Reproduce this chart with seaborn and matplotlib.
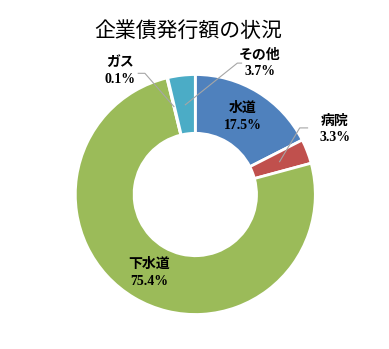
import numpy as np
import matplotlib
matplotlib.use("Agg")
import matplotlib.pyplot as plt
import seaborn as sns

# 企業債発行額の構成比（%）
categories = ["水道", "病院", "下水道", "ガス", "その他"]
shares = [17.5, 3.3, 75.4, 0.1, 3.7]
colors = ["#4F81BD", "#C0504D", "#9BBB59", "#8064A2", "#4BACC6"]
title = "企業債発行額の状況"

sns.set_theme(style="white")
plt.rcParams["font.family"] = ["Noto Sans CJK JP", "DejaVu Sans"]
label_family = ["Liberation Serif", "Noto Sans CJK JP"]

fig = plt.figure(figsize=(3.89, 3.49), dpi=100)
fig.patch.set_facecolor("white")
ax = fig.add_axes([0, 0, 1, 1])

ax.pie(shares, colors=colors, startangle=90, counterclock=False,
       radius=1.0, wedgeprops=dict(width=0.49, edgecolor="white", linewidth=2))
ax.set_aspect("auto")
ax.set_xlim(-1.6275, 1.614)
ax.set_ylim(-1.2875, 1.621)
ax.axis("off")

# mid-angle of every wedge, measured clockwise from 12 o'clock
cum = np.cumsum([0] + shares)
mid = (cum[:-1] + cum[1:]) / 2 / sum(shares) * 2 * np.pi


def at(i, r):
    return r * np.sin(mid[i]), r * np.cos(mid[i])


def label(i):
    return f"{categories[i]}\n{shares[i]:.1f}%"


txt_kw = dict(ha="center", va="center", fontsize=10, fontweight="bold",
              family=label_family, linespacing=1.35, color="black")

# labels inside the large wedges
for i in (0, 2):
    x, y = at(i, 0.76)
    ax.text(x, y, label(i), **txt_kw)

# labels outside the thin wedges, with leader lines
outside = {
    1: dict(text=(1.16, 0.545), line=[(0.94, 0.555), (0.87, 0.555)]),
    3: dict(text=(-0.63, 1.03), line=[(-0.48, 1.01), (-0.42, 1.01)]),
    4: dict(text=(0.535, 1.095), line=[(0.39, 1.095), (0.35, 1.095)]),
}
for i, spec in outside.items():
    ax.text(*spec["text"], label(i), **txt_kw)
    ex, ey = at(i, 0.75)
    xs = [p[0] for p in spec["line"]] + [ex]
    ys = [p[1] for p in spec["line"]] + [ey]
    ax.plot(xs, ys, color="#A6A6A6", lw=0.8, solid_capstyle="butt")

fig.text(188 / 389, 1 - 31 / 349, title, ha="center", va="center",
         fontsize=15, color="black")

fig.savefig("out.png", dpi=100, facecolor="white")
